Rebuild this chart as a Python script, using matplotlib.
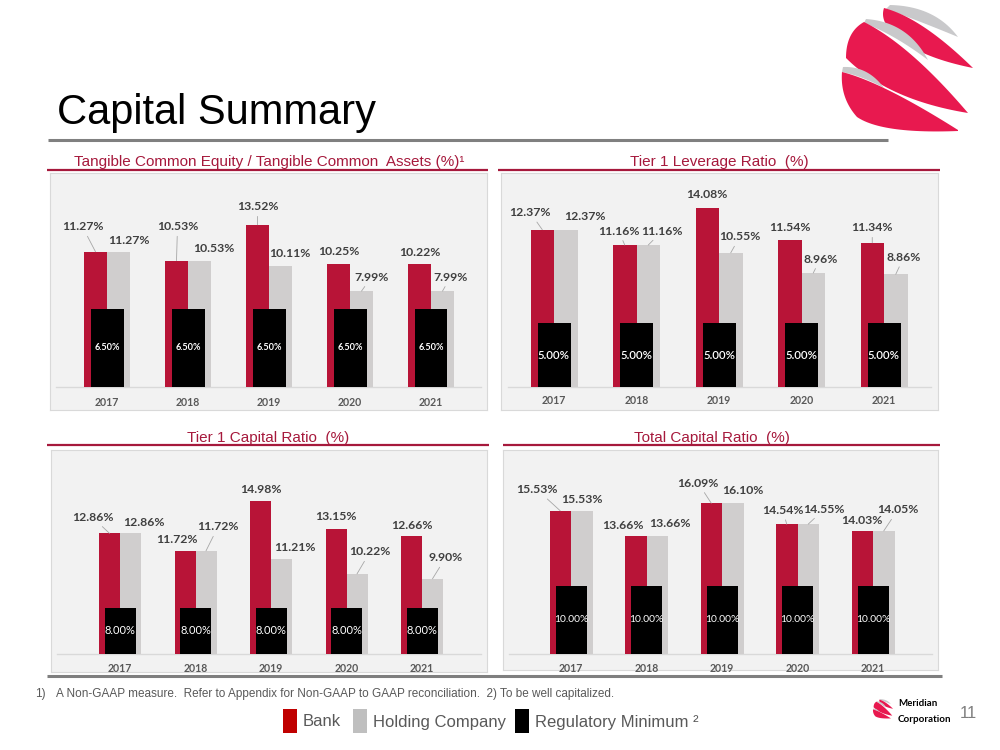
import numpy as np
import matplotlib.pyplot as plt
from matplotlib.patches import Rectangle, Polygon

# ---- data (values in %) ----
years = ["2017", "2018", "2019", "2020", "2021"]

tce_bank = [11.27, 10.53, 13.52, 10.25, 10.22]
tce_hold = [11.27, 10.53, 10.11, 7.99, 7.99]
tce_min = [6.50, 6.50, 6.50, 6.50, 6.50]

lev_bank = [12.37, 11.16, 14.08, 11.54, 11.34]
lev_hold = [12.37, 11.16, 10.55, 8.96, 8.86]
lev_min = [5.00, 5.00, 5.00, 5.00, 5.00]

t1_bank = [12.86, 11.72, 14.98, 13.15, 12.66]
t1_hold = [12.86, 11.72, 11.21, 10.22, 9.90]
t1_min = [8.00, 8.00, 8.00, 8.00, 8.00]

tot_bank = [15.53, 13.66, 16.09, 14.54, 14.03]
tot_hold = [15.53, 13.66, 16.10, 14.55, 14.05]
tot_min = [10.00, 10.00, 10.00, 10.00, 10.00]

RED = "#b81437"
GREY = "#d0cece"
TITLE_RED = "#a6193c"
LBL = "#404040"

W, H = 1000, 750
fig = plt.figure(figsize=(10, 7.5), dpi=100, facecolor="white")

# overlay axes in pixel coords for slide decorations
ov = fig.add_axes([0, 0, 1, 1], zorder=0)
ov.set_xlim(0, W)
ov.set_ylim(H, 0)
ov.axis("off")
ov.patch.set_alpha(0)


def qbez(p0, c, p1, n=30):
    t = np.linspace(0, 1, n)[:, None]
    p0, c, p1 = np.array(p0), np.array(c), np.array(p1)
    return (1 - t) ** 2 * p0 + 2 * (1 - t) * t * c + t ** 2 * p1


# logo ribbons (big-logo pixel space): colour, then bezier edges in order
ribbons = [
    ("#c9c9cb", [(890, 5), (935, 6), (958, 37)], [(958, 37), (922, 22), (886, 9)], None),
    ("#e8194f", [(884, 8), (922, 18), (973, 68)], [(973, 68), (908, 55), (887, 26)],
     [(887, 26), (881, 17), (884, 8)]),
    ("#c9c9cb", [(866, 19), (908, 22), (928, 60)], [(928, 60), (895, 35), (864, 23)], None),
    ("#e8194f", [(864, 22), (910, 45), (968, 113)], [(968, 113), (888, 100), (846, 58)],
     [(846, 58), (846, 32), (864, 22)]),
    ("#c9c9cb", [(843, 67), (868, 66), (884, 88)], [(884, 88), (862, 76), (842, 72)], None),
    ("#e8194f", [(842, 72), (882, 82), (958, 130)], [(958, 131), (882, 134), (857, 117)],
     [(857, 117), (840, 98), (842, 72)]),
]


def draw_logo(ox, oy, s):
    for col, up, lo, left in ribbons:
        parts = [qbez(*up), qbez(*lo)]
        if left is not None:
            parts.append(qbez(*left))
        pts = np.vstack(parts)
        pts = (pts - np.array([842, 4])) * s + np.array([ox, oy])
        ov.add_patch(Polygon(pts, closed=True, color=col, lw=0))


draw_logo(842, 4, 1.0)
draw_logo(873, 699, 0.153)

# title
ov.text(57, 124, "Capital Summary", fontsize=30, family="Liberation Sans",
        color="black", va="baseline", ha="left")
ov.plot([48, 888], [140, 140], color="#808080", lw=2.2, solid_capstyle="butt")

# section titles and red rules
sections = [
    ("Tangible Common Equity / Tangible Common  Assets (%)\u00b9", 269, 166, 47, 488, 170),
    ("Tier 1 Leverage Ratio  (%)", 719, 166, 498, 940, 170),
    ("Tier 1 Capital Ratio  (%)", 268, 442, 47, 489, 445),
    ("Total Capital Ratio  (%)", 712, 442, 503, 940, 445),
]
for txt, tx, ty, x0, x1, ly in sections:
    ov.text(tx, ty, txt, fontsize=11, family="Liberation Sans", color=TITLE_RED,
            ha="center", va="baseline")
    ov.plot([x0, x1], [ly, ly], color=TITLE_RED, lw=1.6, solid_capstyle="butt")

# bottom rule
ov.plot([47, 942], [676, 676], color="#7f7f7f", lw=2.2, solid_capstyle="butt")

# footnote
ov.text(35, 694, "1)", fontsize=8.5, family="Liberation Sans", color="#595959", va="center")
ov.text(56, 694, "A Non-GAAP measure.  Refer to Appendix for Non-GAAP to GAAP reconciliation.  "
        "2) To be well capitalized.", fontsize=8.5, family="Liberation Sans",
        color="#595959", va="center")

# legend
legend_items = [("#c00000", "Bank", 283), ("#bfbfbf", "Holding Company", 353),
                ("#000000", "Regulatory Minimum \u00b2", 515)]
for col, name, lx in legend_items:
    ov.add_patch(Rectangle((lx, 709), 14, 24, color=col, lw=0))
    ov.text(lx + 20, 722, name, fontsize=12, family="Liberation Sans",
            color="#595959", va="center", ha="left")

ov.text(898, 704, "Meridian", fontsize=7, family="Lato", weight="bold", color="black", va="center")
ov.text(898, 719, "Corporation", fontsize=7, family="Lato", weight="bold", color="black", va="center")
ov.text(960, 714, "11", fontsize=12, family="Liberation Sans", color="#7f7f7f", va="center")

# chart panels: panel rect px, baseline px, px per %, axis min, first centre px,
# spacing px, bar width px, black bar width px, min-label font size/weight
charts = [
    dict(bank=tce_bank, hold=tce_hold, reg=tce_min,
         rect=(50, 173, 487, 410), base_px=387, scale=12.0, base=0, c0=107, sp=81,
         bw=23, kw=33, kfs=6.6, kwt="bold", ylab=16,
         boff=[(-13, 25), (1, 34), (0, 18), (0, 12), (0, 12)],
         hoff=[(10, 11), (14, 12), (9, 12), (10, 14), (8, 14)]),
    dict(bank=lev_bank, hold=lev_hold, reg=lev_min,
         rect=(501, 173, 938, 410), base_px=387, scale=12.72, base=0, c0=554, sp=82.5,
         bw=23.5, kw=33, kfs=8.2, kwt="semibold", ylab=13,
         boff=[(-12, 17), (-6, 14), (0, 13), (0, 13), (0, 15)],
         hoff=[(19, 13), (14, 14), (9, 16), (7, 14), (8, 17)]),
    dict(bank=t1_bank, hold=t1_hold, reg=t1_min,
         rect=(51, 450, 487, 672), base_px=654, scale=15.35, base=5, c0=120, sp=75.5,
         bw=21, kw=31, kfs=8.0, kwt="normal", ylab=14,
         boff=[(-17, 16), (-8, 11), (0, 11), (0, 12), (0, 11)],
         hoff=[(13, 11), (12, 24), (13, 11), (13, 22), (13, 21)]),
    dict(bank=tot_bank, hold=tot_hold, reg=tot_min,
         rect=(503, 450, 938, 670), base_px=654, scale=13.6, base=5, c0=571, sp=75.5,
         bw=21.5, kw=31, kfs=7.4, kwt="normal", ylab=14,
         boff=[(-23, 21), (-13, 11), (-13, 20), (-4, 14), (0, 11)],
         hoff=[(0, 11), (13, 13), (10, 13), (16, 15), (14, 21)]),
]

for ch in charts:
    x0, y0, x1, y1 = ch["rect"]
    ax = fig.add_axes([x0 / W, 1 - y1 / H, (x1 - x0) / W, (y1 - y0) / H], zorder=1)
    ax.set_facecolor("#f2f2f2")
    for s in ax.spines.values():
        s.set_color("#d9d9d9")
        s.set_linewidth(0.8)
    ax.set_xticks([])
    ax.set_yticks([])
    sp, sc, base = ch["sp"], ch["scale"], ch["base"]
    ax.set_xlim((x0 - ch["c0"]) / sp, (x1 - ch["c0"]) / sp)
    ax.set_ylim(base - (y1 - ch["base_px"]) / sc, base + (ch["base_px"] - y0) / sc)

    x = np.arange(len(years))
    w = ch["bw"] / sp
    kw = ch["kw"] / sp
    bank = np.array(ch["bank"])
    hold = np.array(ch["hold"])
    reg = np.array(ch["reg"])

    lo, hi = ax.get_xlim()
    ax.plot([lo + 0.08, hi - 0.08], [base, base], color="#d9d9d9", lw=1, zorder=1)
    ax.bar(x - w / 2, bank - base, bottom=base, width=w, color=RED, zorder=2)
    ax.bar(x + w / 2, hold - base, bottom=base, width=w, color=GREY, zorder=2)
    ax.bar(x, reg - base, bottom=base, width=kw, color="black", zorder=3)

    for i in range(len(years)):
        for xc, v, (dx, dy) in ((x[i] - w / 2, bank[i], ch["boff"][i]),
                                (x[i] + w / 2, hold[i], ch["hoff"][i])):
            ap = None
            if dy >= 14:
                ap = dict(arrowstyle="-", color="#a6a6a6", lw=0.6, shrinkA=1, shrinkB=0)
            ax.annotate(f"{v:.2f}%", xy=(xc, v), xytext=(dx, dy), textcoords="offset pixels",
                        ha="center", va="center", fontsize=8.8, family="Lato",
                        weight="bold", color=LBL, arrowprops=ap, zorder=4)
        ax.text(x[i], (base + reg[i]) / 2, f"{reg[i]:.2f}%", ha="center", va="center",
                fontsize=ch["kfs"], family="Lato", weight=ch["kwt"], color="white", zorder=4)
        ax.annotate(years[i], xy=(x[i], base), xytext=(0, -ch["ylab"]),
                    textcoords="offset pixels", ha="center", va="center",
                    fontsize=7.6, family="Lato", weight="bold", color="#595959")

fig.savefig("out.png", dpi=100, facecolor="white")
